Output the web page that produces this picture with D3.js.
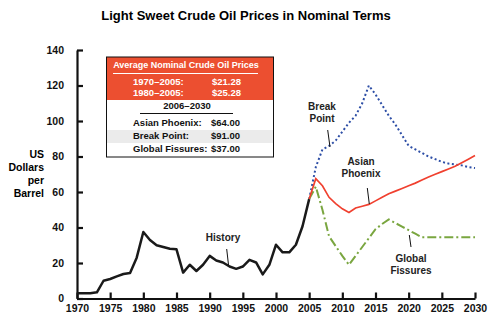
<!DOCTYPE html>
<html><head><meta charset="utf-8">
<script src="https://cdn.jsdelivr.net/npm/d3@7"></script>
<style>
body{margin:0;background:#fff;}
svg text{font-family:"Liberation Sans",Arial,sans-serif;}
</style></head>
<body><svg id="c" width="492" height="331"></svg>
<script>
const histYears = [1970,1971,1972,1973,1974,1975,1976,1977,1978,1979,1980,1981,1982,1983,1984,1985,1986,1987,1988,1989,1990,1991,1992,1993,1994,1995,1996,1997,1998,1999,2000,2001,2002,2003,2004,2005];
const histValues = [3,3,3,3.5,10,11,12.5,13.8,14.4,23,37.5,33,30,29,28,27.7,14.6,19,15.5,19,24,21.4,20.3,18,16.7,18,21.8,20.3,13.6,19,30.3,26,26,30.3,40.7,56];
const projYears = [2005,2006,2007,2008,2009,2010,2011,2012,2013,2014,2015,2016,2017,2018,2019,2020,2021,2022,2023,2024,2025,2026,2027,2028,2029,2030];
const asianPhoenix = [56,67.5,63.5,57,53.5,50.5,48.5,51,52,53,55,57,59,60.5,62,63.5,65,66.8,68.5,70,71.5,73,74.5,76.5,78.5,80.5];
const breakPoint = [56,74,84,86,89,94,99,103,110,120,115,109,103,98,92,86,84,82,80,78.5,77,76,75.5,75,74,73.5];
const globalFissures = [56,63,50,35,29.5,24,19,24,29,34,39,42,44.5,42.5,40.5,38.5,36.5,34.5,34.5,34.5,34.5,34.5,34.5,34.5,34.5,34.5];
const yTicks = [0,20,40,60,80,100,120,140];
const xTicks = [1970,1975,1980,1985,1990,1995,2000,2005,2010,2015,2020,2025,2030];
const histRows = [["1970–2005:","$21.28"],["1980–2005:","$25.28"]];
const scenRows = [["Asian Phoenix:","$64.00"],["Break Point:","$91.00"],["Global Fissures:","$37.00"]];

const svg = d3.select("#c");
const x = d3.scaleLinear().domain([1970,2030]).range([77,475]);
const y = d3.scaleLinear().domain([0,140]).range([298.5,50]);

svg.append("text").attr("x",246).attr("y",20).attr("text-anchor","middle")
  .attr("font-size",13).attr("font-weight","bold").text("Light Sweet Crude Oil Prices in Nominal Terms");

// y label
["US","Dollars","per","Barrel"].forEach((t,i)=>{
  svg.append("text").attr("x",44).attr("y",158+i*13).attr("text-anchor","end")
    .attr("font-size",10.5).attr("font-weight","bold").text(t);
});

// axes
const ya = svg.append("g").attr("transform",`translate(${x(1970)},0)`)
  .call(d3.axisLeft(y).tickValues(yTicks).tickSize(-6).tickSizeOuter(0).tickPadding(13));
const xa = svg.append("g").attr("transform",`translate(0,${y(0)})`)
  .call(d3.axisBottom(x).tickValues(xTicks).tickFormat(d3.format("d")).tickSize(-6).tickSizeOuter(0).tickPadding(6));
[ya,xa].forEach(g=>{
  g.selectAll("path,line").attr("stroke","#111").attr("stroke-width",2.2);
  g.selectAll("text").attr("font-size",10.5).attr("font-weight","bold").attr("fill","#111")
    .attr("font-family","'Liberation Sans',Arial,sans-serif");
});

const line = (xs)=>d3.line().x((d,i)=>x(xs[i])).y(d=>y(d));

svg.append("path").datum(breakPoint).attr("d",line(projYears)).attr("fill","none")
  .attr("stroke","#2d4ea6").attr("stroke-width",2).attr("stroke-dasharray","2,2.5");
svg.append("path").datum(globalFissures).attr("d",line(projYears)).attr("fill","none")
  .attr("stroke","#7aa640").attr("stroke-width",2).attr("stroke-dasharray","9,3,2,3");
svg.append("path").datum(asianPhoenix).attr("d",line(projYears)).attr("fill","none")
  .attr("stroke","#f0402f").attr("stroke-width",1.7);
svg.append("path").datum(histValues).attr("d",line(histYears)).attr("fill","none")
  .attr("stroke","#1a1a1a").attr("stroke-width",2.5).attr("stroke-linejoin","round");

// annotations
function label(lines,cx,y0,lx1,ly1,lx2,ly2){
  lines.forEach((t,i)=>svg.append("text").attr("x",cx).attr("y",y0+i*11.5).attr("text-anchor","middle")
    .attr("font-size",10).attr("font-weight","bold").attr("fill","#222").text(t));
  svg.append("line").attr("x1",lx1).attr("y1",ly1).attr("x2",lx2).attr("y2",ly2).attr("stroke","#111").attr("stroke-width",1);
}
label(["History"],223,241,226.7,249,228.5,265);
label(["Break","Point"],322,110,327.7,130,330,147);
label(["Asian","Phoenix"],361,165,367.3,188,369.3,204);
label(["Global","Fissures"],411,262,409.3,235,411,247);

// legend box
const bx=106.5, by=57, bw=167, bh=100;
svg.append("rect").attr("x",bx).attr("y",by).attr("width",bw).attr("height",43).attr("fill","#ec4f30");
svg.append("rect").attr("x",bx).attr("y",130).attr("width",bw).attr("height",13).attr("fill","#ebebeb");
svg.append("rect").attr("x",bx).attr("y",by).attr("width",bw).attr("height",bh).attr("fill","none").attr("stroke","#111").attr("stroke-width",1);
svg.append("text").attr("x",186).attr("y",68).attr("text-anchor","middle").attr("font-size",9)
  .attr("font-weight","bold").attr("fill","#fff").text("Average Nominal Crude Oil Prices");
svg.append("line").attr("x1",113).attr("x2",258).attr("y1",73.5).attr("y2",73.5).attr("stroke","#fff").attr("stroke-width",1);
histRows.forEach((r,i)=>{
  svg.append("text").attr("x",133).attr("y",85+i*11).attr("font-size",9.5).attr("font-weight","bold").attr("fill","#fff").text(r[0]);
  svg.append("text").attr("x",212).attr("y",85+i*11).attr("font-size",9.5).attr("font-weight","bold").attr("fill","#fff").text(r[1]);
});
svg.append("text").attr("x",187).attr("y",109).attr("text-anchor","middle").attr("font-size",9.5).attr("font-weight","bold").attr("fill","#111").text("2006–2030");
svg.append("line").attr("x1",140).attr("x2",233).attr("y1",113.5).attr("y2",113.5).attr("stroke","#111").attr("stroke-width",1);
scenRows.forEach((r,i)=>{
  svg.append("text").attr("x",133).attr("y",126+i*13).attr("font-size",9.5).attr("font-weight","bold").attr("fill","#111").text(r[0]);
  svg.append("text").attr("x",211).attr("y",126+i*13).attr("font-size",9.5).attr("font-weight","bold").attr("fill","#111").text(r[1]);
});
</script></body></html>
